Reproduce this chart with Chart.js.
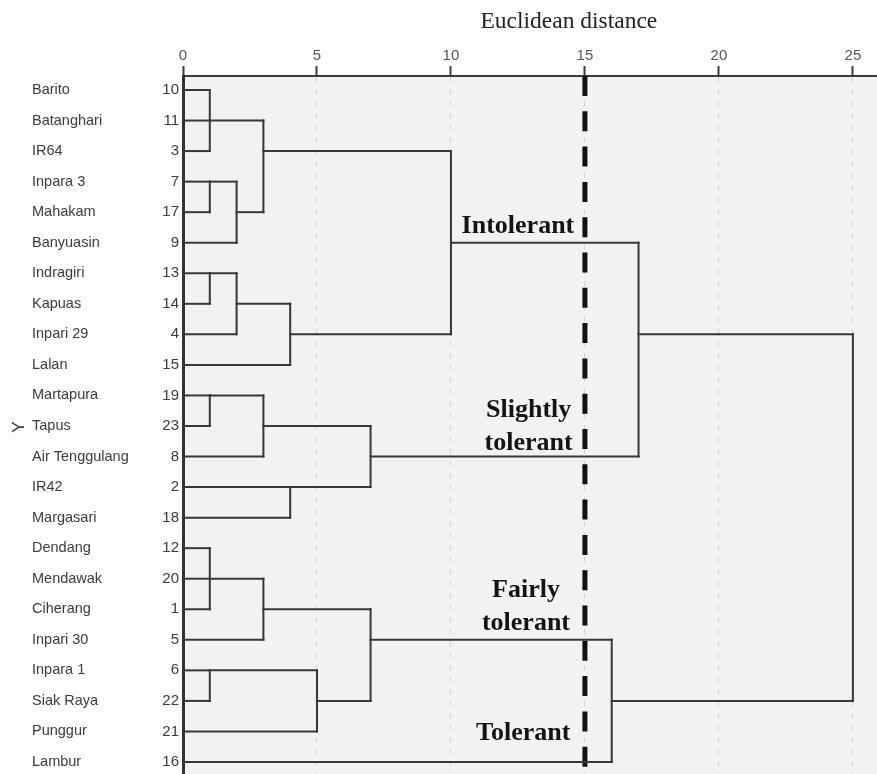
<!DOCTYPE html>
<html>
<head>
<meta charset="utf-8">
<script src="https://cdn.jsdelivr.net/npm/chart.js@4/dist/chart.umd.min.js"></script>
<style>
  html, body { margin: 0; padding: 0; background: #fdfdfd; }
  #wrap { position: relative; width: 877px; height: 774px; }
</style>
</head>
<body>
<div id="wrap"><canvas id="dendro"></canvas></div>
<script>
// ================================================================
//  DATA
// ================================================================
const cultivars = ['Barito', 'Batanghari', 'IR64', 'Inpara 3', 'Mahakam', 'Banyuasin',
  'Indragiri', 'Kapuas', 'Inpari 29', 'Lalan', 'Martapura', 'Tapus', 'Air Tenggulang',
  'IR42', 'Margasari', 'Dendang', 'Mendawak', 'Ciherang', 'Inpari 30', 'Inpara 1',
  'Siak Raya', 'Punggur', 'Lambur'];
const caseIds = [10, 11, 3, 7, 17, 9, 13, 14, 4, 15, 19, 23, 8, 2, 18, 12, 20, 1, 5, 6, 22, 21, 16];

// merges: node ids 0..22 are leaves (row order), 23.. are the merges below in order
const mergeChildren = [
  [0, 1, 2], [3, 4], [24, 5], [23, 25], [6, 7], [27, 8], [28, 9], [26, 29],
  [10, 11], [31, 12], [13, 14], [32, 33], [30, 34],
  [15, 16, 17], [36, 18], [19, 20], [38, 21], [37, 39], [40, 22], [35, 41]
];
const mergeHeights = [1, 1, 2, 3, 1, 2, 4, 10, 1, 3, 4, 7, 17, 1, 3, 1, 5, 7, 16, 25];
// row where each merged cluster leaves to the right (as drawn in the reference)
const mergeRows = [1, 3, 4, 2, 6, 7, 8, 5, 10, 11, 13, 12, 8, 16, 17, 19, 20, 18, 20, 8];

const distTicks = [0, 5, 10, 15, 20, 25];
const cutDistance = 15;
const groupLabels = [['Intolerant'], ['Slightly', 'tolerant'], ['Fairly', 'tolerant'], ['Tolerant']];

// ================================================================
//  BUILD SEGMENTS
// ================================================================
const nLeaf = cultivars.length;
const nodeRow = [], nodeH = [];
cultivars.forEach((_, i) => { nodeRow[i] = i; nodeH[i] = 0; });
mergeChildren.forEach((ch, k) => { nodeRow[nLeaf + k] = mergeRows[k]; nodeH[nLeaf + k] = mergeHeights[k]; });

const LINE = '#383838';
const datasets = [];
mergeChildren.forEach((ch, k) => {
  const h = mergeHeights[k];
  const rows = ch.map(c => nodeRow[c]);
  // vertical bracket
  datasets.push({ data: [{ x: h, y: Math.min(...rows) }, { x: h, y: Math.max(...rows) }] });
  // horizontal arm from each child to this merge
  ch.forEach(c => datasets.push({ data: [{ x: nodeH[c], y: nodeRow[c] }, { x: h, y: nodeRow[c] }] }));
});
datasets.forEach(d => Object.assign(d, {
  yAxisID: 'yNum', borderColor: LINE, borderWidth: 2, pointRadius: 0, showLine: true, fill: false,
  borderCapStyle: 'square'
}));

// cut line
datasets.push({
  yAxisID: 'yNum',
  data: [{ x: cutDistance, y: -0.458 }, { x: cutDistance, y: 22.393 }],
  borderColor: '#111111', borderWidth: 5, borderDash: [20, 15.3], pointRadius: 0, showLine: true,
  borderCapStyle: 'butt'
});

// ================================================================
//  PLUGINS
// ================================================================
const bgPlugin = {
  id: 'bg',
  beforeDraw(chart) {
    const { ctx, chartArea: a } = chart;
    ctx.save();
    ctx.fillStyle = '#f2f2f1';
    ctx.fillRect(a.left, a.top, a.right - a.left, a.bottom - a.top);
    ctx.restore();
  }
};

const textPlugin = {
  id: 'texts',
  afterDraw(chart) {
    const { ctx } = chart;
    const xs = chart.scales.x, ys = chart.scales.yNum;
    ctx.save();
    // axis title
    ctx.fillStyle = '#222222';
    ctx.font = '23.5px "Liberation Serif", "Times New Roman", serif';
    ctx.textAlign = 'center';
    ctx.textBaseline = 'alphabetic';
    ctx.fillText('Euclidean distance', xs.getPixelForValue(14.4), 28);

    // group labels next to the cut line
    const spots = [[12.5, 233], [12.9, 417], [12.8, 597], [12.7, 740]];
    ctx.fillStyle = '#141414';
    ctx.font = 'bold 26px "Liberation Serif", "Times New Roman", serif';
    groupLabels.forEach((lines, i) => {
      const [vx, by] = spots[i];
      lines.forEach((t, j) => ctx.fillText(t, xs.getPixelForValue(vx), by + j * 32.5));
    });

    // rotated Y marker
    ctx.fillStyle = '#444444';
    ctx.font = '17px "Liberation Sans", Arial, sans-serif';
    ctx.translate(19.5, ys.getPixelForValue(11) + 1);
    ctx.rotate(-Math.PI / 2);
    ctx.textBaseline = 'middle';
    ctx.fillText('Y', 0, 0);
    ctx.restore();
  }
};

function noPad(s, w) {
  s.width = w;
  s.paddingTop = 0;
  s.paddingBottom = 0;
}

// ================================================================
//  CHART
// ================================================================
new Chart(document.getElementById('dendro').getContext('2d'), {
  type: 'scatter',
  data: { datasets },
  options: {
    responsive: true, maintainAspectRatio: false, animation: false,
    layout: { padding: { left: 32, right: 0, top: 0, bottom: 0 } },
    plugins: { legend: { display: false }, tooltip: { enabled: false } },
    scales: {
      x: {
        type: 'linear', position: 'top', min: 0, max: 25.9,
        afterFit: s => { s.height = 76; },
        afterBuildTicks: s => { s.ticks = distTicks.map(v => ({ value: v })); },
        ticks: { color: '#555555', padding: 1, font: { family: '"Liberation Sans", Arial', size: 15 } },
        grid: {
          color: c => (c.tick && c.tick.value === 0) ? 'rgba(0,0,0,0)' : '#d2d2d2',
          lineWidth: 1, tickColor: '#3a3a3a', tickWidth: 2, tickLength: 10, tickBorderDash: []
        },
        border: { display: true, color: '#3a3a3a', width: 2, dash: [5, 7] }
      },
      yNum: {
        type: 'linear', position: 'left', reverse: true, min: -0.458, max: 22.393, weight: 0,
        afterFit: s => noPad(s, 40),
        afterBuildTicks: s => { s.ticks = caseIds.map((_, i) => ({ value: i })); },
        ticks: {
          autoSkip: false, padding: 4, color: '#3a3a3a',
          font: { family: '"Liberation Sans", Arial', size: 15 },
          callback: v => caseIds[v]
        },
        grid: { display: false, drawTicks: false },
        border: { display: true, color: '#333333', width: 3 }
      },
      yName: {
        type: 'linear', position: 'left', reverse: true, min: -0.458, max: 22.393, weight: 1,
        afterFit: s => noPad(s, 111),
        afterBuildTicks: s => { s.ticks = cultivars.map((_, i) => ({ value: i })); },
        ticks: {
          autoSkip: false, padding: 0, crossAlign: 'far', color: '#3c3c3c',
          font: { family: '"Liberation Sans", Arial', size: 14.5 },
          callback: v => cultivars[v]
        },
        grid: { display: false, drawTicks: false },
        border: { display: false }
      }
    }
  },
  plugins: [bgPlugin, textPlugin]
});
</script>
</body>
</html>
